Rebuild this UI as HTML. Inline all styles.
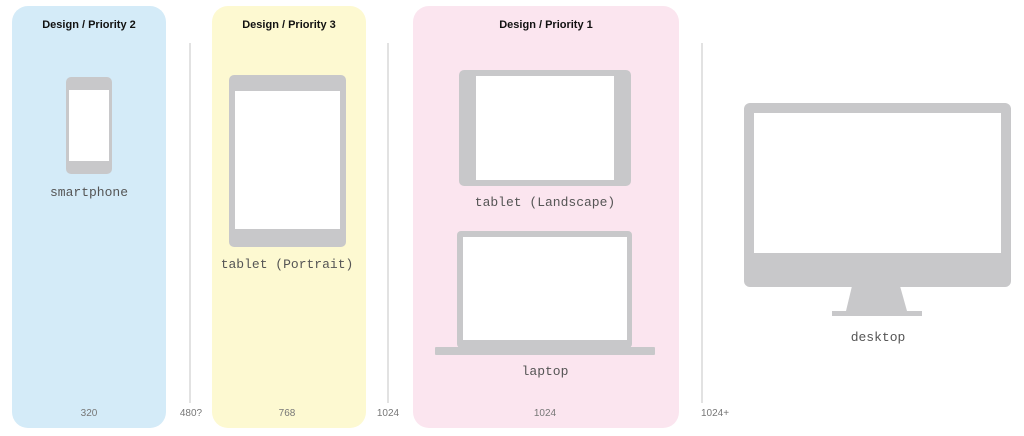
<!DOCTYPE html>
<html><head><meta charset="utf-8"><style>
html,body{margin:0;padding:0;background:#fff;width:1024px;height:436px;overflow:hidden}
svg{display:block}
.h{font-family:"Liberation Sans",sans-serif;font-weight:bold;font-size:11px;fill:#111}
.l{font-family:"Liberation Mono","DejaVu Sans Mono",monospace;font-size:13px;fill:#555}
.n{font-family:"Liberation Sans",sans-serif;font-size:10px;fill:#777}
</style></head><body>
<svg width="1024" height="436" viewBox="0 0 1024 436">
<rect x="12" y="6" width="154" height="422" rx="16" fill="#d4ebf8"/>
<rect x="212" y="6" width="154" height="422" rx="16" fill="#fdf9d1"/>
<rect x="413" y="6" width="266" height="422" rx="16" fill="#fbe5ef"/>
<g stroke="#d8d8d8" stroke-width="1.5">
<line x1="190" y1="43" x2="190" y2="403"/>
<line x1="388" y1="43" x2="388" y2="403"/>
<line x1="702" y1="43" x2="702" y2="403"/>
</g>
<text class="h" x="89" y="28" text-anchor="middle">Design / Priority 2</text>
<text class="h" x="289" y="28" text-anchor="middle">Design / Priority 3</text>
<text class="h" x="546" y="28" text-anchor="middle">Design / Priority 1</text>
<g fill="#c8c8ca">
<rect x="66" y="77" width="46" height="97" rx="5"/>
<rect x="229" y="75" width="117" height="172" rx="5"/>
<rect x="459" y="70" width="172" height="116" rx="5"/>
<rect x="457" y="231" width="175" height="117" rx="4"/>
<rect x="435" y="347" width="220" height="8" rx="1"/>
<rect x="744" y="103" width="267" height="184" rx="6"/>
<polygon points="852,286 900,286 907,311 846,311"/>
<rect x="832" y="311" width="90" height="5"/>
</g>
<g fill="#fff">
<rect x="69" y="90" width="40" height="71"/>
<rect x="235" y="91" width="105" height="138"/>
<rect x="476" y="76" width="138" height="104"/>
<rect x="463" y="237" width="164" height="103"/>
<rect x="754" y="113" width="247" height="140"/>
</g>
<text class="l" x="89" y="196" text-anchor="middle">smartphone</text>
<text class="l" x="287" y="268" text-anchor="middle">tablet (Portrait)</text>
<text class="l" x="545" y="206" text-anchor="middle">tablet (Landscape)</text>
<text class="l" x="545" y="375" text-anchor="middle">laptop</text>
<text class="l" x="878" y="341" text-anchor="middle">desktop</text>
<text class="n" x="89" y="416" text-anchor="middle">320</text>
<text class="n" x="191" y="416" text-anchor="middle">480?</text>
<text class="n" x="287" y="416" text-anchor="middle">768</text>
<text class="n" x="388" y="416" text-anchor="middle">1024</text>
<text class="n" x="545" y="416" text-anchor="middle">1024</text>
<text class="n" x="715" y="416" text-anchor="middle">1024+</text>
</svg>
</body></html>
